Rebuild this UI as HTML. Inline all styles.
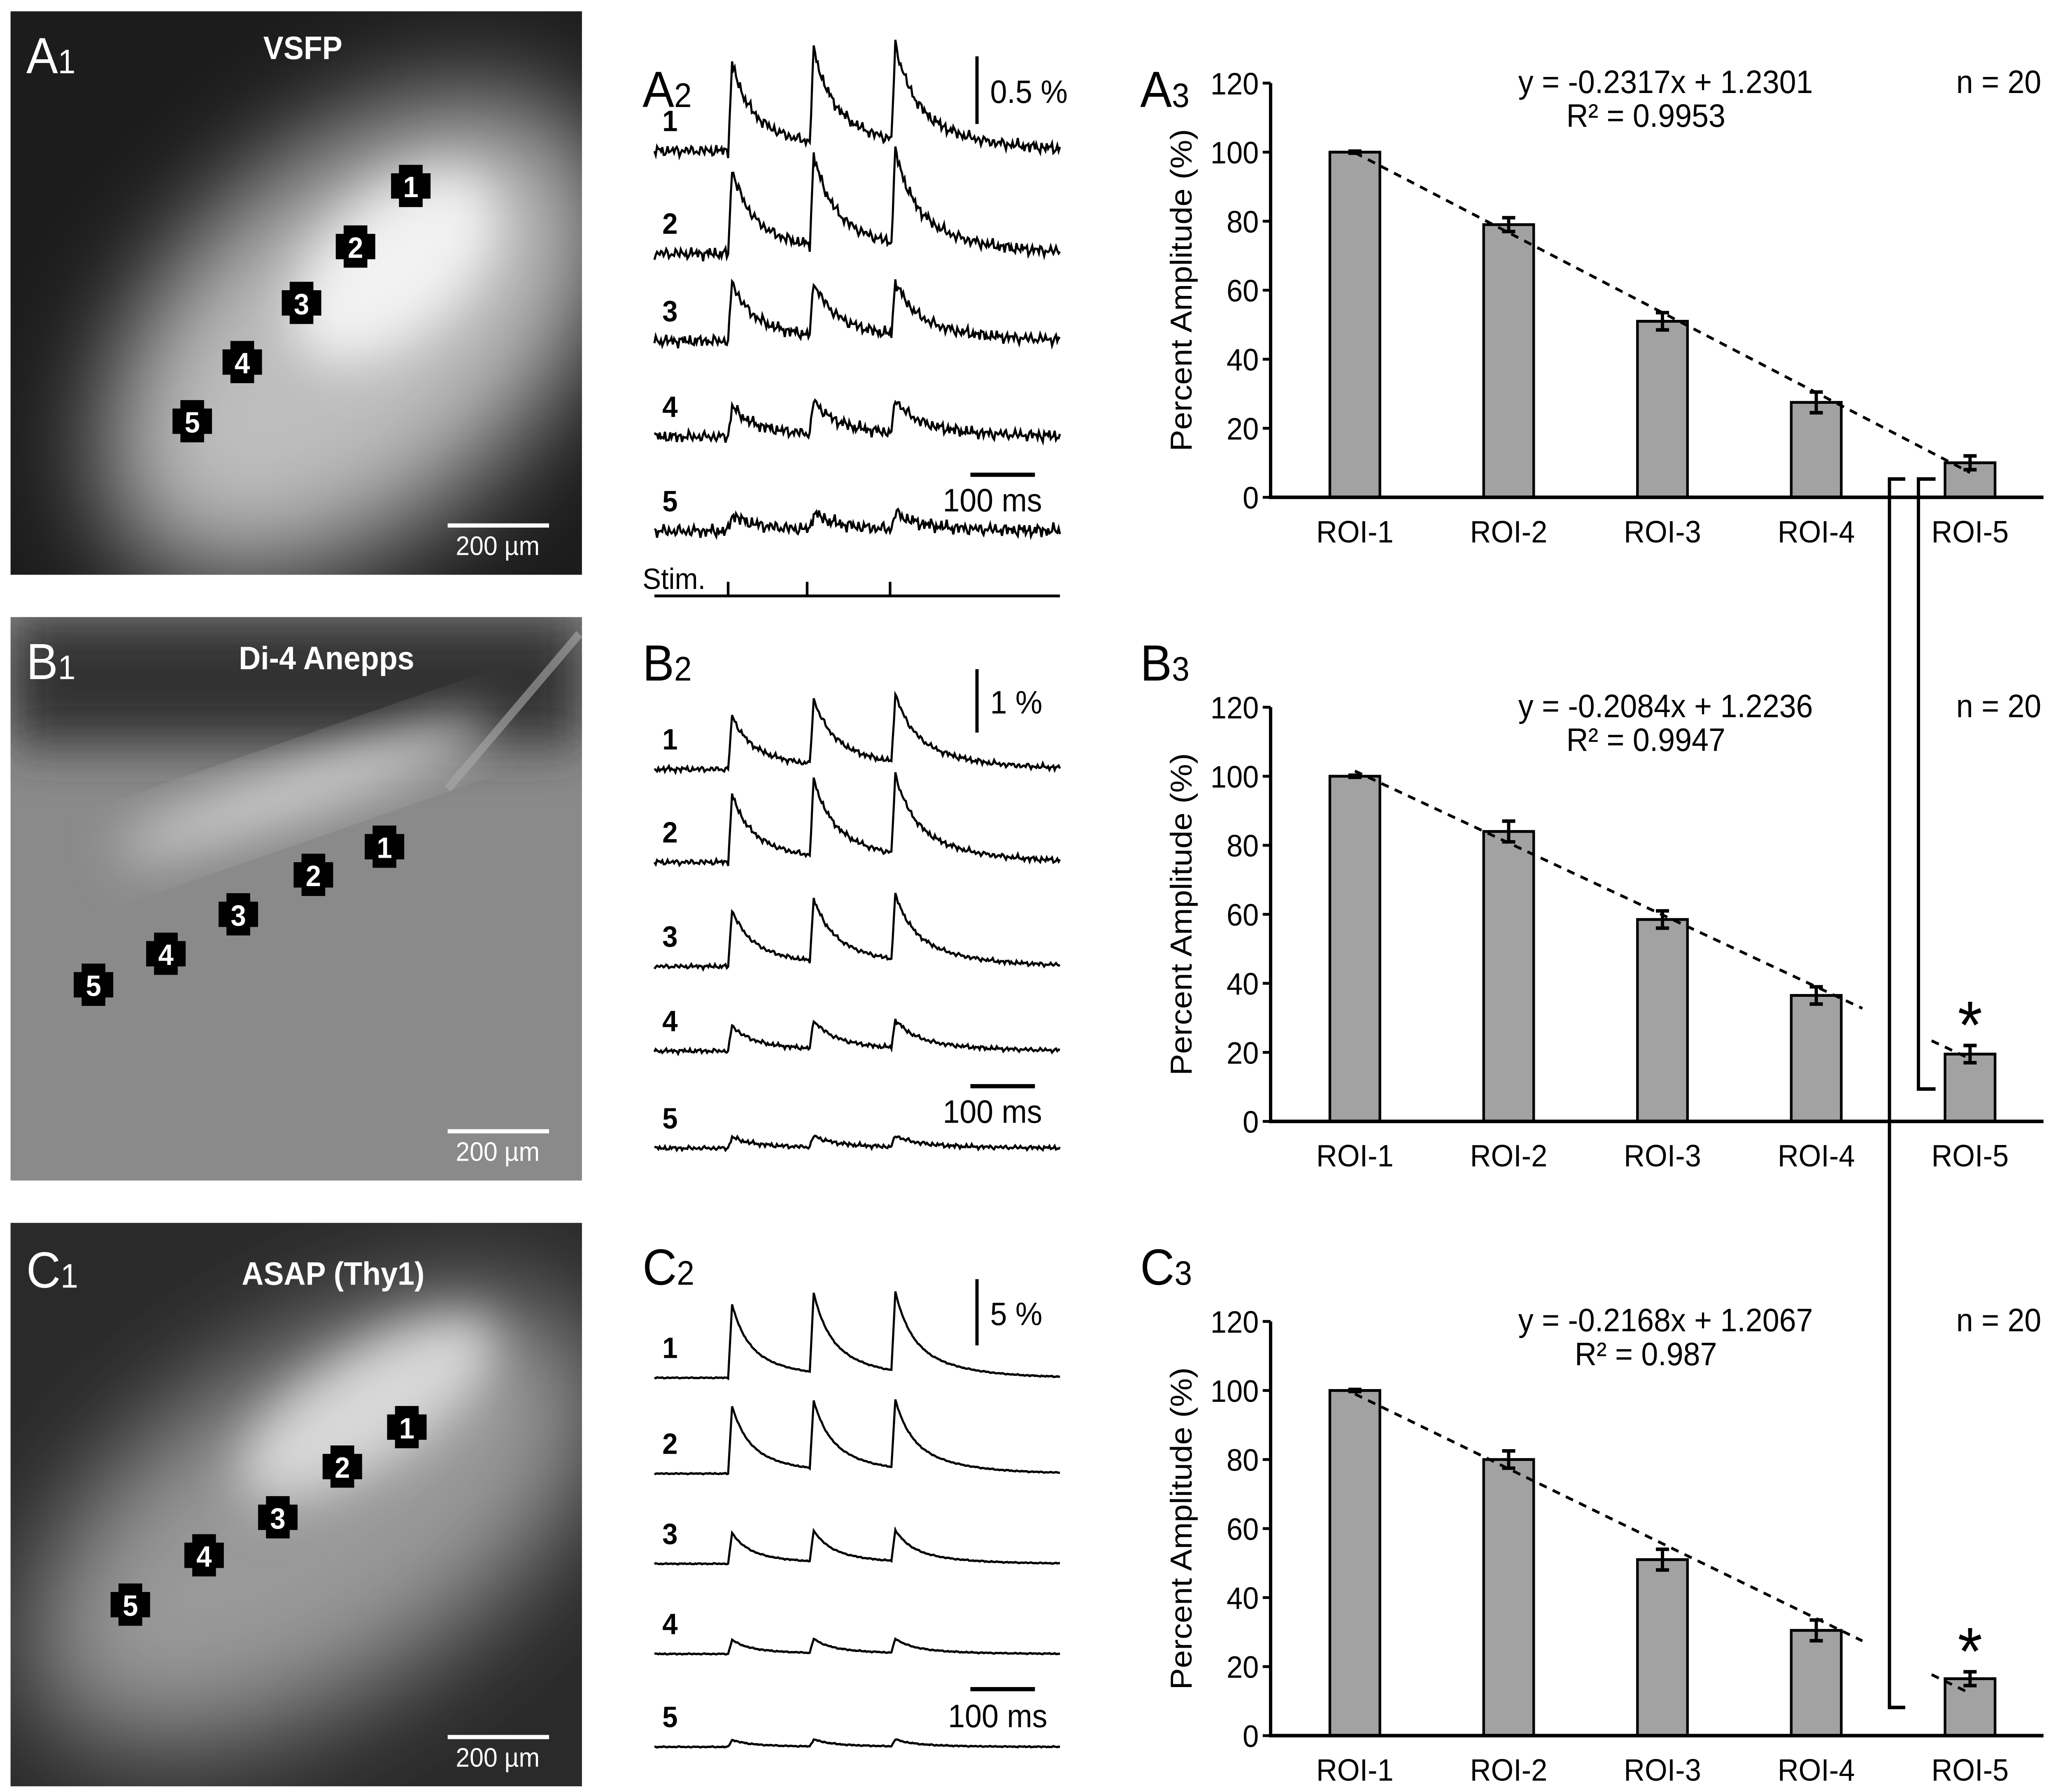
<!DOCTYPE html>
<html><head><meta charset="utf-8"><style>
html,body{margin:0;padding:0;background:#fff;overflow:hidden;width:100vw;height:100vh;}
svg{display:block;width:100vw;height:100vh;}
text{font-family:"Liberation Sans",sans-serif;}
</style></head><body>
<svg id="fig" viewBox="0 0 1563 1272" preserveAspectRatio="none" xmlns="http://www.w3.org/2000/svg">
<defs>
<filter id="bl" x="-50%" y="-50%" width="200%" height="200%"><feGaussianBlur stdDeviation="40"/></filter>
<filter id="bl2" x="-50%" y="-50%" width="200%" height="200%"><feGaussianBlur stdDeviation="18"/></filter>
<clipPath id="c1"><rect x="8" y="8" width="434" height="400"/></clipPath>
<clipPath id="c2"><rect x="8" y="438" width="434" height="400"/></clipPath>
<clipPath id="c3"><rect x="8" y="868" width="434" height="400"/></clipPath>
</defs>
<g clip-path="url(#c1)">
<rect x="8" y="8" width="434" height="400" fill="#1c1c1c"/>
<ellipse cx="270" cy="240" rx="220" ry="130" transform="rotate(-38 270 240)" fill="#bdbdbd" filter="url(#bl)"/>
<ellipse cx="300" cy="190" rx="90" ry="50" transform="rotate(-38 300 190)" fill="#f2f2f2" filter="url(#bl2)"/>
</g>
<g clip-path="url(#c2)">
<rect x="8" y="438" width="434" height="400" fill="#8a8a8a"/>
<rect x="8" y="438" width="434" height="90" fill="#303030" filter="url(#bl2)"/>
<ellipse cx="230" cy="560" rx="150" ry="18" transform="rotate(-18 230 560)" fill="#d0d0d0" filter="url(#bl2)"/>
<line x1="340" y1="560" x2="440" y2="450" stroke="#aaa" stroke-width="6" opacity="0.6"/>
</g>
<g clip-path="url(#c3)">
<rect x="8" y="868" width="434" height="400" fill="#2a2a2a"/>
<ellipse cx="240" cy="1080" rx="240" ry="120" transform="rotate(-30 240 1080)" fill="#999" filter="url(#bl)"/>
<ellipse cx="280" cy="1000" rx="110" ry="40" transform="rotate(-30 280 1000)" fill="#d8d8d8" filter="url(#bl2)"/>
</g>
<g id="dyn"></g>
</svg>
<script>
const categories=["ROI-1","ROI-2","ROI-3","ROI-4","ROI-5"];
const yTicks=[0,20,40,60,80,100,120];
const valuesA=[100,79,51,27.5,10];
const errorsA=[0.3,2,2.5,3,2];
const valuesB=[100,84,58.5,36.5,19.5];
const errorsB=[0.3,3,2.5,2.5,2.5];
const valuesC=[100,80,51,30.5,16.5];
const errorsC=[0.3,2.5,3,3,2];
const slopes=[-0.2317,-0.2084,-0.2168];
const intercepts=[1.2301,1.2236,1.2067];
const eqLabels=["y = -0.2317x + 1.2301","y = -0.2084x + 1.2236","y = -0.2168x + 1.2067"];
const r2Labels=["R² = 0.9953","R² = 0.9947","R² = 0.987"];
const ampA=[[62,66,68],[60,64,66],[42,38,38],[22,24,24],[12,12,12]];
const ampB=[[38,46,48],[48,54,56],[40,44,46],[18,20,20],[8,8,8]];
const ampC=[[52,56,56],[48,48,48],[22,22,22],[10,10,10],[5,5,5]];
const noiseA=[4,4,4,4,4.5];
const noiseB=[2,2,1.5,1.5,1.5];
const noiseC=[0.4,0.4,0.4,0.4,0.4];
const spikeTimes=[553,615,677];

const NS="http://www.w3.org/2000/svg";
const dyn=document.getElementById('dyn');
function mk(tag,attrs,parent,txt){const e=document.createElementNS(NS,tag);for(const k in attrs)e.setAttribute(k,attrs[k]);if(txt!==undefined)e.textContent=txt;(parent||dyn).appendChild(e);return e;}

const pl=[["A","1",20,52,"#fff"],["A","2",488,76,"#000"],["A","3",866,76,"#000"],
["B","1",20,482,"#fff"],["B","2",488,483,"#000"],["B","3",866,483,"#000"],
["C","1",20,914,"#fff"],["C","2",488,912,"#000"],["C","3",866,912,"#000"]];
pl.forEach(p=>{const t=mk('text',{x:p[2],y:p[3],fill:p[4],'font-size':36});


t.textContent=p[0];mk('tspan',{'font-size':24},t,p[1]);});

const imgs=[["VSFP",230,42,8],["Di-4 Anepps",248,475,438],["ASAP (Thy1)",253,912,868]];
imgs.forEach((m,i)=>{const t=mk('text',{x:m[1],y:m[2],fill:'#fff','font-size':23,'font-weight':'bold','text-anchor':'middle'},dyn,m[0]);


const y0=m[3];const l=mk('line',{x1:340,x2:417,y1:y0+365,y2:y0+365,stroke:'#fff','stroke-width':3});


const s=mk('text',{x:378,y:y0+386,fill:'#fff','font-size':19,'text-anchor':'middle'},dyn,'200 µm');

});

const rois=[[[312,132],[270,175],[229,215],[184,257],[146,299]],
[[292,601],[238,621],[181,649],[126,677],[71,699]],
[[309,1013],[260,1041],[211,1077],[155,1104],[99,1139]]];
rois.forEach(set=>set.forEach((p,i)=>{const g=mk('g',{});


const x=p[0],y=p[1],a=15,b=9;
mk('polygon',{points:`${x-b},${y-a} ${x+b},${y-a} ${x+b},${y-b} ${x+a},${y-b} ${x+a},${y+b} ${x+b},${y+b} ${x+b},${y+a} ${x-b},${y+a} ${x-b},${y+b} ${x-a},${y+b} ${x-a},${y-b} ${x-b},${y-b}`,fill:'#000'},g);
mk('text',{x:x,y:y+8,fill:'#fff','font-size':21,'font-weight':'bold','text-anchor':'middle'},g,String(i+1));}));

function noise(x,r){return Math.sin(x*1.7+r)*0.5+Math.sin(x*3.1+r*2.3)*0.35+Math.sin(x*0.53+r*4.1)*0.25+Math.sin(x*7.3+r)*0.3;}
function drawTraces(amps,noises,bases,tau,name){
 amps.forEach((row,r)=>{let d='';
  for(let x=497;x<=805;x++){let v=0;
   spikeTimes.forEach((t,k)=>{const dx=x-t;if(dx>=0){const rise=Math.min(1,dx/3);v+=row[k]*rise*(0.55*Math.exp(-Math.max(0,dx-3)/(tau*0.3))+0.45*Math.exp(-Math.max(0,dx-3)/tau));}});
   const y=bases[r]-v+noises[r]*noise(x,r+name.length);
   d+=(x===497?'M':'L')+x+','+y.toFixed(1);}
  const p=mk('path',{d:d,fill:'none',stroke:'#000','stroke-width':1.6});
  
  
  const t=mk('text',{x:503,y:bases[r]-14,'font-size':21,'font-weight':'bold'},dyn,String(r+1));
  
  
 });}
drawTraces(ampA,noiseA,[107,180,242,310,377],40,'vsfp');
drawTraces(ampB,noiseB,[546,612,686,746,815],40,'di4');
drawTraces(ampC,noiseC,[978,1046,1110,1174,1240],35,'asap');

const sb=[[40,88,"0.5 %",337,716,363],[475,520,"1 %",771,716,797],[908,955,"5 %",1199,720,1226]];
sb.forEach(s=>{let l=mk('line',{x1:742,x2:742,y1:s[0],y2:s[1],stroke:'#000','stroke-width':2.5});


let t=mk('text',{x:752,y:(s[0]+s[1])/2+9,'font-size':23},dyn,s[2]);


l=mk('line',{x1:737,x2:786,y1:s[3],y2:s[3],stroke:'#000','stroke-width':3});


t=mk('text',{x:s[4],y:s[5],'font-size':23},dyn,'100 ms');

});
let st=mk('path',{d:'M497,423 L805,423 M553,413 L553,423 M613,413 L613,423 M676,413 L676,423',stroke:'#000','stroke-width':2,fill:'none'});


st=mk('text',{x:488,y:418,'font-size':21},dyn,'Stim.');



const axL=965,axR=1552,cx0=1029,cStep=116.8,bw=38;
function xS(i){return cx0+i*cStep;}
function drawChart(vals,errs,y0,k,stars,broken){
 const yS=v=>y0-v*2.45;
 const g=mk('g',{});
 
 
 yTicks.forEach(t=>{mk('line',{x1:axL-6,x2:axL,y1:yS(t),y2:yS(t),stroke:'#000','stroke-width':2},g);
  const tl=mk('text',{x:axL-9,y:yS(t)+8,'font-size':22,'text-anchor':'end'},g,String(t));
  
  });
 vals.forEach((v,i)=>{const r=mk('rect',{x:xS(i)-bw/2,y:yS(v),width:bw,height:y0-yS(v),fill:'#a2a2a2',stroke:'#000','stroke-width':2},g);
  
  
  const e=errs[i],x=xS(i);
  const eb=mk('path',{d:`M${x},${yS(v+e)} L${x},${yS(v-e)} M${x-5},${yS(v+e)} L${x+5},${yS(v+e)} M${x-5},${yS(v-e)} L${x+5},${yS(v-e)}`,stroke:'#000','stroke-width':2.5,fill:'none'},g);
  
  
  const cl=mk('text',{x:x,y:y0+32,'font-size':22,'text-anchor':'middle'},g,categories[i]);
  
  });
 const tr=i=>100*(slopes[k]*(i+1)+intercepts[k]);
 const segs=broken?[[0.0,3.3],[3.75,4.0]]:[[0.0,4.0]];
 segs.forEach(s=>{const tl=mk('line',{x1:xS(s[0]),y1:yS(tr(s[0])),x2:xS(s[1]),y2:yS(tr(s[1])),stroke:'#000','stroke-width':2,'stroke-dasharray':'6,5'},g);
  
  });
 const ax=mk('path',{d:`M${axL},${yS(120)} L${axL},${y0} L${axR},${y0}`,stroke:'#000','stroke-width':2.5,fill:'none'},g);
 
 
 const yt=mk('text',{x:0,y:0,'font-size':23,'text-anchor':'middle',transform:`translate(905 ${yS(60)}) rotate(-90)`},g,'Percent Amplitude (%)');
 
 
 let t=mk('text',{x:1265,y:y0-287,'font-size':23,'text-anchor':'middle'},g,eqLabels[k]);
 
 
 t=mk('text',{x:1250,y:y0-263,'font-size':23,'text-anchor':'middle'},g,r2Labels[k]);
 
 
 t=mk('text',{x:1518,y:y0-287,'font-size':23,'text-anchor':'middle'},g,'n = 20');
 
 
 if(stars){t=mk('text',{x:xS(4),y:yS(vals[4]+errs[4])+2,'font-size':48,'text-anchor':'middle'},g,'*');
 
 }
}
drawChart(valuesA,errorsA,353,0,false,false);
drawChart(valuesB,errorsB,796,1,true,true);
drawChart(valuesC,errorsC,1232,2,true,true);
let br=mk('path',{d:'M1447,340 L1435,340 L1435,1212 L1447,1212',stroke:'#000','stroke-width':2.5,fill:'none'});


br=mk('path',{d:'M1470,340 L1457,340 L1457,773 L1470,773',stroke:'#000','stroke-width':2.5,fill:'none'});


</script>
</body></html>
